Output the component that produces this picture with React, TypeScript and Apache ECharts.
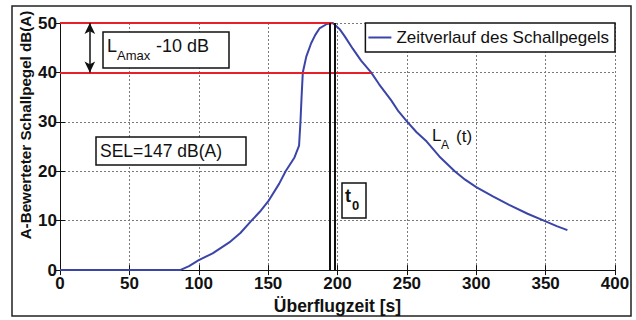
import React, { useEffect, useRef } from "react";
import * as echarts from "echarts";

// Sound level over time during an aircraft flyover
const timeS = [
  0, 50, 86.5, 93, 100, 110, 122, 130, 138, 144, 150, 158, 162.6, 169, 172.3,
  173.3, 174.1, 175, 177.5, 181, 184, 187, 192.3, 196.6, 201.4, 205, 211, 217,
  224.2, 230, 238.6, 244, 250, 257, 264.3, 273.4, 284.5, 292, 300, 312, 323.7,
  337, 349.6, 358, 365.7,
];
const levelDb = [
  0, 0, 0, 0.8, 2.0, 3.4, 5.6, 7.5, 10, 11.8, 13.9, 17.5, 20, 22.8, 25.2,
  30, 35, 40, 43.2, 45.9, 47.6, 48.9, 49.8, 50, 48.8, 47.4, 44.8, 42.4,
  40, 37.6, 34.4, 32.1, 30.1, 27.9, 26.0, 23.0, 20, 18.3, 16.8, 14.9, 13.2,
  11.4, 9.9, 8.9, 8.1,
];

// Reference levels (L_Amax and L_Amax - 10 dB) and where they end on the time axis
const refLevels = [50, 40];
const refEnds = [196.6, 224.2];
// Double line marking t0
const t0Lines = [194.2, 197.8];
// Double arrow showing the 10 dB span
const arrowX = 21.5;

const xTicks = { min: 0, max: 400, interval: 50 };
const yTicks = { min: 0, max: 50, interval: 10 };

const FONT = "'Liberation Sans', Arial, Helvetica, sans-serif";
const BLUE = "#3b45a8";
const RED = "#e8202a";
const INK = "#111";

export default function App() {
  const ref = useRef<HTMLDivElement>(null);

  useEffect(() => {
    if (!ref.current) return;
    const chart = echarts.init(ref.current, null, { renderer: "svg" });

    const xAxisBase = {
      type: "value" as const,
      min: xTicks.min,
      max: xTicks.max,
      interval: xTicks.interval,
      axisLine: { show: true, lineStyle: { color: INK, width: 1 } },
      axisTick: { show: true, inside: true, length: 5, lineStyle: { color: INK } },
    };
    const yAxisBase = {
      type: "value" as const,
      min: yTicks.min,
      max: yTicks.max,
      interval: yTicks.interval,
      axisLine: { show: true, lineStyle: { color: INK, width: 1 } },
      axisTick: { show: true, inside: true, length: 5, lineStyle: { color: INK } },
    };
    const gridLine = {
      show: true,
      lineStyle: { color: "#7a7a7a", type: [2, 2], width: 1 },
    };

    const seriesName = "Zeitverlauf des Schallpegels";

    chart.setOption({
      animation: false,
      backgroundColor: "#fff",
      textStyle: { fontFamily: FONT },
      grid: { left: 60, right: 21, top: 23, bottom: 45, containLabel: false },
      legend: {
        data: [seriesName],
        right: 21,
        top: 23,
        orient: "horizontal",
        backgroundColor: "#fff",
        borderColor: INK,
        borderWidth: 1.5,
        borderRadius: 0,
        padding: [6, 6, 6, 3],
        icon: "rect",
        itemWidth: 23,
        itemHeight: 2,
        textStyle: { fontFamily: FONT, fontSize: 17, color: "#111" },
        selectedMode: false,
      },
      xAxis: [
        {
          ...xAxisBase,
          position: "bottom",
          axisLabel: {
            show: true,
            margin: 5,
            fontFamily: FONT,
            fontSize: 17,
            fontWeight: "bold",
            color: "#111",
          },
          splitLine: gridLine,
          name: "Überflugzeit [s]",
          nameLocation: "middle",
          nameGap: 23,
          nameTextStyle: {
            fontFamily: FONT,
            fontSize: 17.5,
            fontWeight: "bold",
            color: "#111",
          },
        },
        {
          ...xAxisBase,
          position: "top",
          axisLabel: { show: false },
          splitLine: { show: false },
        },
      ],
      yAxis: [
        {
          ...yAxisBase,
          position: "left",
          axisLabel: {
            show: true,
            margin: 3,
            fontFamily: FONT,
            fontSize: 17,
            fontWeight: "bold",
            color: "#111",
          },
          splitLine: gridLine,
        },
        {
          ...yAxisBase,
          position: "right",
          axisLabel: { show: false },
          splitLine: { show: false },
        },
      ],
      series: [
        {
          name: seriesName,
          type: "line",
          data: timeS.map((t, i) => [t, levelDb[i]]),
          symbol: "none",
          smooth: false,
          lineStyle: { color: BLUE, width: 2, join: "round" },
          itemStyle: { color: BLUE },
          z: 4,
          silent: true,
        },
        {
          name: "ref",
          type: "line",
          data: [],
          z: 3,
          silent: true,
          markLine: {
            silent: true,
            symbol: ["none", "none"],
            label: { show: false },
            lineStyle: { color: RED, width: 1.8, type: "solid" },
            data: refLevels.map((lv, i) => [
              { coord: [xTicks.min, lv] },
              { coord: [refEnds[i], lv] },
            ]),
          },
        },
        {
          name: "t0",
          type: "line",
          data: [],
          z: 5,
          silent: true,
          markLine: {
            silent: true,
            symbol: ["none", "none"],
            label: { show: false },
            lineStyle: { color: INK, width: 2, type: "solid" },
            data: t0Lines.map((x) => [
              { coord: [x, yTicks.min] },
              { coord: [x, yTicks.max] },
            ]),
          },
        },
        {
          name: "span",
          type: "line",
          data: [],
          z: 5,
          silent: true,
          markLine: {
            silent: true,
            symbol: ["arrow", "arrow"],
            symbolSize: [8, 11],
            label: { show: false },
            lineStyle: { color: INK, width: 1.5, type: "solid" },
            itemStyle: { color: INK },
            data: [[{ coord: [arrowX, refLevels[0]] }, { coord: [arrowX, refLevels[1]] }]],
          },
        },
      ],
      graphic: [
        // outer frame
        {
          type: "rect",
          shape: { x: 12, y: 6, width: 619, height: 310 },
          style: { fill: "none", stroke: "#222", lineWidth: 1.5 },
          z: 0,
          silent: true,
        },
        // y-axis title
        {
          type: "text",
          x: 25,
          y: 125,
          rotation: Math.PI / 2,
          style: {
            text: "A-Bewerteter Schallpegel dB(A)",
            fontFamily: FONT,
            fontSize: 15.2,
            fontWeight: "bold",
            fill: "#111",
            align: "center",
            verticalAlign: "middle",
          },
          silent: true,
        },
        // L_Amax -10 dB box
        {
          type: "rect",
          shape: { x: 103, y: 32, width: 126, height: 36 },
          style: { fill: "#fff", stroke: INK, lineWidth: 1.5 },
          z: 10,
          silent: true,
        },
        {
          type: "text",
          x: 107,
          y: 45.5,
          z: 11,
          style: { text: "L", fontFamily: FONT, fontSize: 18, fill: "#111", verticalAlign: "middle" },
          silent: true,
        },
        {
          type: "text",
          x: 117,
          y: 55,
          z: 11,
          style: { text: "Amax", fontFamily: FONT, fontSize: 13, fill: "#111", verticalAlign: "middle" },
          silent: true,
        },
        {
          type: "text",
          x: 156,
          y: 45.5,
          z: 11,
          style: { text: "-10 dB", fontFamily: FONT, fontSize: 18, fill: "#111", verticalAlign: "middle" },
          silent: true,
        },
        // SEL box
        {
          type: "rect",
          shape: { x: 96, y: 137, width: 150, height: 28 },
          style: { fill: "#fff", stroke: INK, lineWidth: 1.5 },
          z: 10,
          silent: true,
        },
        {
          type: "text",
          x: 100,
          y: 151,
          z: 11,
          style: { text: "SEL=147 dB(A)", fontFamily: FONT, fontSize: 17.5, fill: "#111", verticalAlign: "middle" },
          silent: true,
        },
        // t0 box
        {
          type: "rect",
          shape: { x: 342, y: 183, width: 24, height: 35 },
          style: { fill: "#fff", stroke: INK, lineWidth: 1.5 },
          z: 10,
          silent: true,
        },
        {
          type: "text",
          x: 345,
          y: 195.5,
          z: 11,
          style: { text: "t", fontFamily: FONT, fontSize: 18, fontWeight: "bold", fill: "#111", verticalAlign: "middle" },
          silent: true,
        },
        {
          type: "text",
          x: 352,
          y: 205.5,
          z: 11,
          style: { text: "0", fontFamily: FONT, fontSize: 13, fontWeight: "bold", fill: "#111", verticalAlign: "middle" },
          silent: true,
        },
        // L_A (t) label
        {
          type: "text",
          x: 432,
          y: 135.5,
          z: 11,
          style: { text: "L", fontFamily: FONT, fontSize: 17, fill: "#111", verticalAlign: "middle" },
          silent: true,
        },
        {
          type: "text",
          x: 441,
          y: 145,
          z: 11,
          style: { text: "A", fontFamily: FONT, fontSize: 12, fill: "#111", verticalAlign: "middle" },
          silent: true,
        },
        {
          type: "text",
          x: 456,
          y: 136.5,
          z: 11,
          style: { text: "(t)", fontFamily: FONT, fontSize: 17, fill: "#111", verticalAlign: "middle" },
          silent: true,
        },
      ],
    });

    return () => chart.dispose();
  }, []);

  return (
    <div
      ref={ref}
      style={{ position: "fixed", left: 0, top: 0, width: 636, height: 320 }}
    />
  );
}
